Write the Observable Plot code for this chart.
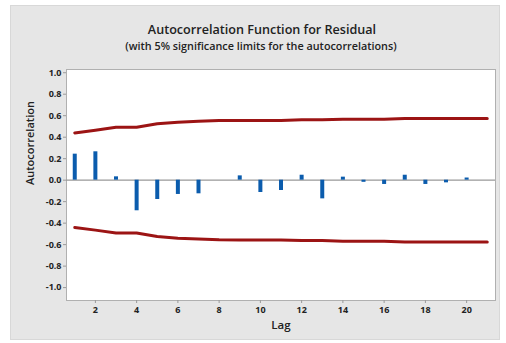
<!DOCTYPE html>
<html><head><meta charset="utf-8">
<script src="https://cdn.jsdelivr.net/npm/d3@7"></script>
<script src="https://cdn.jsdelivr.net/npm/@observablehq/plot@0.6"></script>
<style>
body{margin:0;background:#fff;font-family:"Open Sans",sans-serif;}
#wrap{position:relative;width:506px;height:343px;}
#panel{position:absolute;left:10px;top:5px;width:490px;height:335px;background:#e6e6e6;border:1px solid #d8d8d8;box-sizing:border-box;}
#title{position:absolute;left:0;width:524px;text-align:center;top:21px;font-size:12.6px;font-weight:600;color:#222;}
#sub{position:absolute;left:0;width:522px;text-align:center;top:38px;font-size:10.8px;font-weight:600;color:#222;}
#chart{position:absolute;left:0;top:0;}
</style></head>
<body><div id="wrap"><div id="panel"></div><div id="chart"></div>
<div id="title">Autocorrelation Function for Residual</div>
<div id="sub">(with 5% significance limits for the autocorrelations)</div></div>
<script>
const lags = [1,2,3,4,5,6,7,8,9,10,11,12,13,14,15,16,17,18,19,20];
const acf = [0.242,0.264,0.031,-0.285,-0.18,-0.133,-0.127,0.0,0.04,-0.115,-0.096,0.046,-0.174,0.028,-0.02,-0.04,0.046,-0.04,-0.025,0.02];
const limitLags = [1,2,3,4,5,6,7,8,9,10,11,12,13,14,15,16,17,18,19,20,21];
const upperLimit = [0.44,0.465,0.492,0.492,0.525,0.54,0.548,0.555,0.556,0.556,0.556,0.562,0.562,0.568,0.568,0.568,0.575,0.575,0.575,0.575,0.575];
const lowerLimit = upperLimit.map(v => -v);
const yTicks = [-1,-0.8,-0.6,-0.4,-0.2,0,0.2,0.4,0.6,0.8,1.0];
const xTicks = [2,4,6,8,10,12,14,16,18,20];

const bars = lags.map((l,i)=>({lag:l, r:acf[i]}));
const lim = limitLags.map((l,i)=>({lag:l, up:upperLimit[i], lo:lowerLimit[i]}));

const chart = Plot.plot({
  width:506, height:343,
  marginLeft:66, marginRight:11, marginTop:69, marginBottom:43,
  style:{background:"transparent", fontFamily:"Open Sans, sans-serif", fontSize:"9px", fontWeight:700, color:"#222"},
  x:{domain:[0.6,21.4], label:null},
  y:{domain:[-1.12,1.03], label:null},
  marks:[
    Plot.frame({fill:"white", stroke:"#b0b0b0"}),
    Plot.axisX({ticks:xTicks, tickFormat:d=>String(d), tickSize:3, stroke:"#999", label:null, tickPadding:3}),
    Plot.axisY({ticks:yTicks, tickFormat:d=>d.toFixed(1), tickSize:3, stroke:"#999", label:null, tickPadding:2}),
    Plot.ruleY([0], {stroke:"#999", strokeWidth:1.2}),
    Plot.ruleX(bars, {x:"lag", y1:0, y2:"r", stroke:"#0b5cad", strokeWidth:4}),
    Plot.line(lim, {x:"lag", y:"up", stroke:"#9c1414", strokeWidth:3}),
    Plot.line(lim, {x:"lag", y:"lo", stroke:"#9c1414", strokeWidth:3}),
    Plot.text(["Lag"], {frameAnchor:"bottom", dy:20, fontSize:11.5, fontWeight:600, fill:"#222", textAnchor:"middle", lineAnchor:"top"}),
    Plot.text(["Autocorrelation"], {frameAnchor:"left", dx:-36, rotate:-90, fontSize:11, fontWeight:600, fill:"#222"})
  ]
});
document.getElementById("chart").appendChild(chart);
</script></body></html>
